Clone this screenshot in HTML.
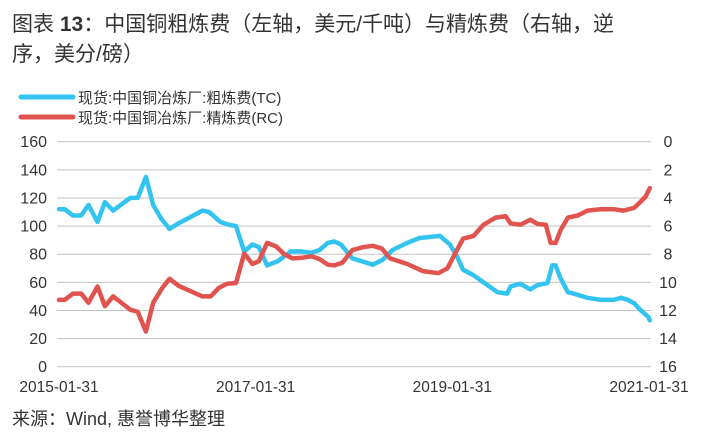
<!DOCTYPE html>
<html><head><meta charset="utf-8"><style>
html,body{margin:0;padding:0;background:#fff;width:705px;height:435px;overflow:hidden}
svg{display:block}
text{font-family:"Liberation Sans","Noto Sans CJK SC",sans-serif;fill:#333}
</style></head><body>
<svg id="chart" width="705" height="435" xmlns="http://www.w3.org/2000/svg">
<text x="12" y="31" font-size="21" fill="#444">图表 <tspan font-weight="bold">13</tspan>：中国铜粗炼费（左轴，美元/千吨）与精炼费（右轴，逆</text>
<text x="12" y="61" font-size="21" fill="#444">序，美分/磅）</text>
<g>
<line x1="21" y1="97" x2="73" y2="97" stroke="#33c3f0" stroke-width="5" stroke-linecap="round"/>
<text x="78" y="103" font-size="15">现货:中国铜冶炼厂:粗炼费(TC)</text>
<line x1="21" y1="117" x2="73" y2="117" stroke="#e0534f" stroke-width="5" stroke-linecap="round"/>
<text x="78" y="123" font-size="15">现货:中国铜冶炼厂:精炼费(RC)</text>
</g>
<g id="grid"></g><g id="axes"></g><g id="series"></g>
<text x="12" y="425" font-size="18">来源：Wind, 惠誉博华整理</text>
</svg>
<script>
// months since 2015-01-31
const tcMonths=[0,0.7,1.7,2.7,3.6,4.7,5.6,6.6,8.7,9.6,10.6,11.5,12.5,13.5,14.6,15.6,17.5,18.3,19.7,20.7,21.6,22.6,23.6,24.4,25.4,26.7,28.3,29.5,30.8,31.8,32.8,33.6,34.4,35.8,38.3,39.5,40.7,42.5,44.0,46.5,47.7,48.6,49.3,50.6,51.8,53.5,54.7,55.1,56.3,57.5,58.4,59.6,60.2,60.6,61.2,62.1,62.8,64.5,66.1,67.7,68.6,69.4,70.2,71.0,71.9,72.1];
const tcValues=[112,112,107.5,107.5,115,103,117,111,120,120,135,115,105,98,102,105,111,110,103,101,100,82,87,85,72,75,82,82,81,83,88,89,87,77,72.5,76,83,88,91.5,93,87,78,69,65,60,53,52,57,59,55,58,59.5,72,72,63,53,52,49,47.5,47.5,49,47.5,45,40,35.5,33];
const rcMonths=[0,0.7,1.7,2.7,3.6,4.7,5.6,6.6,8.7,9.6,10.6,11.5,12.6,13.5,14.6,17.5,18.5,19.5,20.5,21.6,22.6,23.6,24.4,25.4,26.5,27.5,28.5,29.7,30.8,31.8,32.8,33.6,34.6,35.8,37.1,38.3,39.4,40.4,42.5,44.4,46.3,47.4,48.3,49.3,50.6,51.8,53.3,54.5,55.1,56.3,57.5,58.4,59.4,60.0,60.6,61.2,62.1,63.3,64.5,66.1,67.7,68.9,70.2,71.0,71.6,72.1];
const rcValues=[11.25,11.25,10.8,10.8,11.45,10.3,11.7,11.0,11.95,12.1,13.5,11.45,10.4,9.75,10.25,11.0,11.0,10.4,10.1,10.05,7.95,8.7,8.5,7.2,7.45,8.0,8.3,8.25,8.15,8.35,8.75,8.8,8.6,7.7,7.5,7.4,7.6,8.3,8.7,9.2,9.35,9.0,8.0,6.9,6.7,5.9,5.4,5.3,5.8,5.9,5.55,5.85,5.9,7.2,7.2,6.3,5.4,5.25,4.9,4.8,4.8,4.9,4.7,4.25,3.9,3.3];
const leftTicks=[0,20,40,60,80,100,120,140,160];
const rightTicks=[0,2,4,6,8,10,12,14,16];
const xTickLabels=["2015-01-31","2017-01-31","2019-01-31","2021-01-31"];
const xTickMonths=[0,24,48,72];

const NS="http://www.w3.org/2000/svg";
const X0=59,X1=649,Y0=366.7,Y1=141.7;
const xs=m=>X0+(m/72)*(X1-X0);
const yL=v=>Y0-(v/160)*(Y0-Y1);
const yR=v=>Y1+(v/16)*(Y0-Y1);
function mk(t,a,p){const e=document.createElementNS(NS,t);for(const k in a)e.setAttribute(k,a[k]);p.appendChild(e);return e;}
const grid=document.getElementById('grid'),axes=document.getElementById('axes'),ser=document.getElementById('series');
leftTicks.forEach((v,i)=>{
  const y=yL(v);
  const l=mk('line',{x1:X0-2,x2:X1+2,y1:y,y2:y,stroke:'#c3c3c3','stroke-width':1},grid);
  
  
  const t=mk('text',{x:47,y:y+5.5,'font-size':16,'text-anchor':'end'},axes);t.textContent=v;
  
  
});
rightTicks.forEach(v=>{
  const t=mk('text',{x:668,y:yR(v)+5.5,'font-size':16,'text-anchor':'middle'},axes);t.textContent=v;
  
  
});
xTickLabels.forEach((s,i)=>{
  const t=mk('text',{x:xs(xTickMonths[i]),y:392,'font-size':15.5,'text-anchor':'middle'},axes);t.textContent=s;
  
  
});
function path(ms,vs,fy,color,name){
  const d=ms.map((m,i)=>(i?'L':'M')+xs(m).toFixed(1)+','+fy(vs[i]).toFixed(1)).join('');
  const p=mk('path',{d:d,fill:'none',stroke:color,'stroke-width':4.5,'stroke-linejoin':'round','stroke-linecap':'round'},ser);
  
  
}
path(tcMonths,tcValues,yL,'#33c3f0','tc-line');
path(rcMonths,rcValues,yR,'#e0534f','rc-line');
</script>
</body></html>
